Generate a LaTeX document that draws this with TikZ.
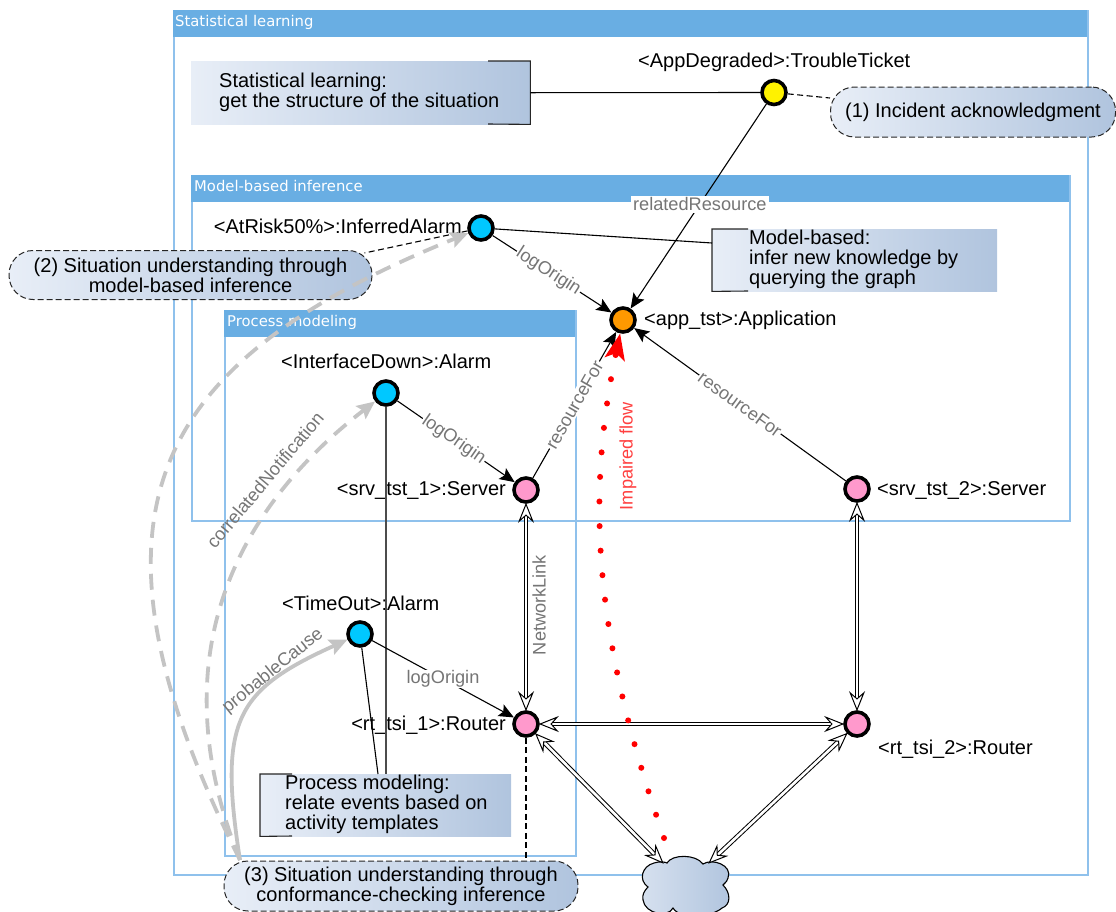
\documentclass[tikz,border=0pt]{standalone}
\usepackage{fontspec}
\setmainfont{Liberation Sans}
\newfontfamily\dejavu{DejaVu Sans}
\usetikzlibrary{arrows.meta,calc}
\definecolor{hdr}{HTML}{69AEE3}
\definecolor{frm}{HTML}{8FC1EC}
\definecolor{gradL}{HTML}{E8EEF7}
\definecolor{gradR}{HTML}{B0C4DE}
\definecolor{lab}{HTML}{757575}
\definecolor{grayarc}{HTML}{C4C4C4}
\tikzset{
  x=1pt,y=-1pt,
  frame/.style={draw=frm,line width=1.7pt},
  header/.style={fill=hdr,draw=none},
  htitle/.style={text=white,font=\dejavu\fontsize{14.8}{16}\selectfont,anchor=base west,inner sep=0},
  txt/.style={font=\fontsize{20}{20}\selectfont,inner sep=0,align=left},
  lblfont/.style={font=\fontsize{18.2}{20}\selectfont,text=lab},
  lbl/.style={lblfont,fill=white,inner sep=1pt},
  obj/.style={circle,draw=black,line width=3.6pt,minimum size=24pt,inner sep=0},
  grad/.style={left color=gradL,right color=gradR,draw=none},
  callout/.style={left color=gradL,right color=gradR,draw=black!85,dash pattern=on 6pt off 3pt,rounded corners=24pt,line width=1pt,inner sep=0,font=\fontsize{20}{20}\selectfont,align=center},
  link/.style={draw=black,line width=1.1pt},
  dlink/.style={draw=black,line width=1.1pt,dash pattern=on 6pt off 3.5pt},
  arr/.style={link,-{Stealth[length=15pt,width=13pt,inset=3pt]}},
  pipe/.style={draw=black,line width=1pt,double=white,double distance=2.6pt,shorten <=-1pt,shorten >=-1pt,
    {Stealth[open,length=20pt,width=16pt,inset=7pt,fill=white,line width=1pt]}-{Stealth[open,length=20pt,width=16pt,inset=7pt,fill=white,line width=1pt]}},
  grayd/.style={draw=grayarc,line width=3.8pt,dash pattern=on 16pt off 10pt,-{Stealth[length=18pt,width=16pt,inset=3pt]}},
  grays/.style={draw=grayarc,line width=3.8pt,-{Stealth[length=18pt,width=16pt,inset=3pt]}},
  bracket/.style={draw=black!85,line width=1.1pt},
}
\begin{document}
\begin{tikzpicture}
\useasboundingbox (0,0) rectangle (1116,911);
% frames
\node[frame,anchor=north west,minimum width=914pt,minimum height=864pt,inner sep=0] (fS) at (173,10) {};
\node[header,anchor=north west,minimum width=914pt,minimum height=27pt,inner sep=0] (hS) at (173,10) {};
\node[htitle] (tS) at (175,26) {Statistical learning};
\node[frame,anchor=north west,minimum width=878pt,minimum height=345pt,inner sep=0] (fM) at (191,175) {};
\node[header,anchor=north west,minimum width=878pt,minimum height=27pt,inner sep=0] (hM) at (191,175) {};
\node[htitle] (tM) at (194,191) {Model-based inference};
\node[frame,anchor=north west,minimum width=351pt,minimum height=545pt,inner sep=0] (fP) at (224,310) {};
\node[header,anchor=north west,minimum width=351pt,minimum height=27pt,inner sep=0] (hP) at (224,310) {};
\node[htitle] (tP) at (227,326) {Process modeling};
% notes
\node[grad,anchor=north west,minimum width=339pt,minimum height=63pt,inner sep=0] (nS) at (191,61) {};
\draw[bracket] (488,61) -- (nS.north east) -- (nS.south east) -- (488,124);
\node[txt,anchor=west] (nSt) at (219,92) {Statistical learning:\\get the structure of the situation};
\node[grad,anchor=north west,minimum width=285pt,minimum height=62pt,inner sep=0] (nM) at (712,229) {};
\draw[bracket] (748,229) -- (nM.north west) -- (nM.south west) -- (748,291);
\node[txt,anchor=west] (nMt) at (749,259) {Model-based:\\infer new knowledge by\\querying the graph};
\node[grad,anchor=north west,minimum width=251pt,minimum height=62pt,inner sep=0] (nP) at (260,774) {};
\draw[bracket] (292,774) -- (nP.north west) -- (nP.south west) -- (292,836);
% nodes
\node[obj,fill=yellow] (ticket) at (774,92.5) {};
\node[obj,fill={rgb,255:red,0;green,200;blue,255}] (inferred) at (481,228) {};
\node[obj,fill={rgb,255:red,255;green,153;blue,0}] (app) at (623,320) {};
\node[obj,fill={rgb,255:red,0;green,200;blue,255}] (iface) at (386,393) {};
\node[obj,fill={rgb,255:red,255;green,153;blue,204}] (srvA) at (526,490) {};
\node[obj,fill={rgb,255:red,255;green,153;blue,204}] (srvB) at (857,489) {};
\node[obj,fill={rgb,255:red,0;green,200;blue,255}] (timeout) at (360,634) {};
\node[obj,fill={rgb,255:red,255;green,153;blue,204}] (rtA) at (526,724) {};
\node[obj,fill={rgb,255:red,255;green,153;blue,204}] (rtB) at (857,724) {};
% cloud
\path[draw=black,line width=1.1pt,left color=gradL!70!gradR,right color=gradR]
  (667,863) .. controls (672,854) and (696,854) .. (703,864)
  .. controls (712,858) and (733,865) .. (728,878)
  .. controls (727,881) .. (723,885)
  .. controls (731,893) and (731,905) .. (722,908)
  .. controls (712,917) and (680,920) .. (673,908)
  .. controls (668,918) and (645,914) .. (643,900)
  .. controls (642,895) and (644,891) .. (648,887)
  .. controls (638,880) and (642,866) .. (654,863)
  .. controls (660,861) and (665,862) .. (667,863) -- cycle;
\coordinate (cloudL) at (663,863);
\coordinate (cloudR) at (709,863);
% text labels
\node[txt,anchor=base west] (ticketT) at (638,67) {<AppDegraded>:TroubleTicket};
\node[txt,anchor=base east] (inferredT) at (462,233) {<AtRisk50\%>:InferredAlarm};
\node[txt,anchor=base west] (appT) at (644,325) {<app\_tst>:Application};
\node[txt,anchor=base west] (ifaceT) at (281,368) {<InterfaceDown>:Alarm};
\node[txt,anchor=base east] (srvAT) at (506,495) {<srv\_tst\_1>:Server};
\node[txt,anchor=base west] (srvBT) at (877,495) {<srv\_tst\_2>:Server};
\node[txt,anchor=base west] (timeoutT) at (282,610) {<TimeOut>:Alarm};
\node[txt,anchor=base east] (rtAT) at (506,730) {<rt\_tsi\_1>:Router};
\node[txt,anchor=base west] (rtBT) at (878,754) {<rt\_tsi\_2>:Router};
% callouts
\node[callout,minimum width=285pt,minimum height=50pt] (cA) at (973,112) {(1) Incident acknowledgment};
\node[callout,minimum width=363pt,minimum height=49pt] (cB) at (190.5,275) {(2) Situation understanding through\\model-based inference};
\node[callout,minimum width=354pt,minimum height=50pt] (cC) at (401,886) {(3) Situation understanding through\\conformance-checking inference};
% plain links
\draw[link] (nS.east) -- (ticket);
\draw[dlink] (ticket) -- (cA);
\draw[dlink] (inferred) -- ($(cB.north east)+(-8,3)$);
\draw[link] (inferred) -- (nM.west |- 0,243);
\draw[draw=black!70,line width=1.3pt] (iface) -- (iface |- nP.north);
\draw[link] (timeout) -- ($(nP.north west)+(118,0)$);
\draw[dlink] (rtA) -- (rtA |- cC.north);
% process note text over links
\node[txt,anchor=west] (nPt) at (285,804) {Process modeling:\\relate events based on\\activity templates};
% labelled arrows
\draw[arr] (ticket) -- node[pos=.49,lblfont,fill=white,inner sep=2pt] {relatedResource} (app);
\draw[arr] (inferred) -- node[lbl,sloped,pos=.47] {logOrigin} (app);
\draw[arr] (srvA) -- node[lbl,sloped,pos=.5] {resourceFor} (app);
\draw[arr] (srvB) -- node[lbl,sloped,pos=.5] {resourceFor} (app);
\draw[arr] (iface) -- node[lbl,sloped,pos=.48] {logOrigin} (srvA);
\draw[arr] (timeout) -- node[lbl,pos=.5] {logOrigin} (rtA);
% network
\draw[pipe] (srvA) -- (rtA);
\draw[pipe] (srvB) -- (rtB);
\draw[pipe] (rtA) -- (rtB);
\draw[pipe] (rtA) -- (cloudL);
\draw[pipe] (rtB) -- (cloudR);
\node[lblfont,rotate=90,inner sep=0] (netL) at (539,605) {NetworkLink};
% impaired flow
\coordinate (flowS) at (664,838);
\draw[red,line width=6pt,line cap=round,dash pattern=on 0pt off 24.6pt,-{Stealth[length=26pt,width=20pt,inset=6pt,line cap=butt]}] (flowS) .. controls (595,640) and (585,500) .. (app);
\node[lblfont,text=red!75,rotate=90,inner sep=0] (flowT) at (628,456) {Impaired flow};
% gray arcs
\coordinate (arcS) at (240,860);
\draw[grayd] (arcS) .. controls (65,510) and (153,361) .. (inferred);
\draw[grayd] (arcS) .. controls (147,628) and (268,484) .. (iface);
\draw[grays] (arcS) .. controls (218,720) and (236,690) .. (timeout);
\node[lblfont,rotate=50,inner sep=0] (corrL) at (265,480) {correlatedNotification};
\node[lblfont,rotate=39,inner sep=0] (probL) at (273,671) {probableCause};
\end{tikzpicture}
\end{document}
